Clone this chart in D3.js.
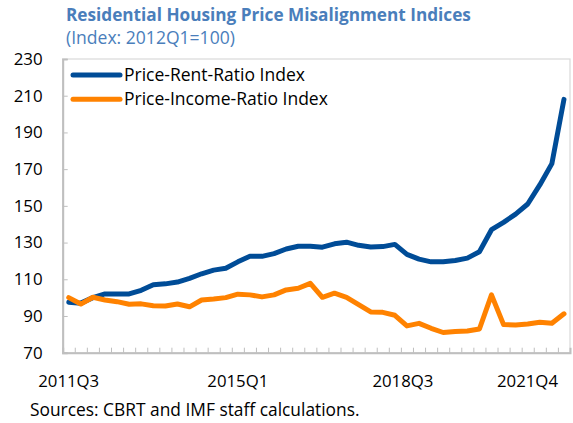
<!DOCTYPE html>
<html>
<head>
<meta charset="utf-8">
<script src="https://cdn.jsdelivr.net/npm/d3@7"></script>
<style>
  body { margin: 0; background: #fff; }
  svg { display: block; font-family: "Open Sans", "Noto Sans", sans-serif; }
</style>
</head>
<body>
<div id="chart"></div>
<script>
// Quarters on the x axis, 2011Q3 .. 2021Q4
var quarters = [
  '2011Q3','2011Q4',
  '2012Q1','2012Q2','2012Q3','2012Q4',
  '2013Q1','2013Q2','2013Q3','2013Q4',
  '2014Q1','2014Q2','2014Q3','2014Q4',
  '2015Q1','2015Q2','2015Q3','2015Q4',
  '2016Q1','2016Q2','2016Q3','2016Q4',
  '2017Q1','2017Q2','2017Q3','2017Q4',
  '2018Q1','2018Q2','2018Q3','2018Q4',
  '2019Q1','2019Q2','2019Q3','2019Q4',
  '2020Q1','2020Q2','2020Q3','2020Q4',
  '2021Q1','2021Q2','2021Q3','2021Q4'
];

// Index values (2012Q1 = 100)
var priceRent = [
  97.5, 97, 100, 102, 102, 102, 104, 107, 107.5, 108.5,
  110.5, 113, 115, 116, 119.5, 122.5, 122.5, 124, 126.5, 128,
  128, 127.5, 129.3, 130.2, 128.5, 127.6, 127.8, 129, 123.6, 121,
  119.5, 119.5, 120.2, 121.5, 125, 137, 141, 145.5, 151, 161.4,
  173, 208
];
var priceIncome = [
  100, 96.5, 100.2, 98.7, 97.8, 96.4, 96.6, 95.6, 95.4, 96.5,
  95, 98.7, 99.2, 100, 101.9, 101.5, 100.4, 101.5, 104.2, 105.1,
  107.8, 100.2, 102.4, 100.2, 96.2, 92.2, 92, 90.4, 84.6, 86,
  83.3, 81, 81.5, 81.8, 82.9, 101.5, 85.3, 85.1, 85.6, 86.6,
  86, 91.2
];

var seriesNames = ['Price-Rent-Ratio Index', 'Price-Income-Ratio Index'];
var seriesColors = ['#004C97', '#FF8200'];

var yTicks = [70, 90, 110, 130, 150, 170, 190, 210, 230];
var xLabels = ['2011Q3', '2015Q1', '2018Q3', '2021Q4'];

var width = 573, height = 423;
var margin = {top: 59, right: 3, bottom: 70.3, left: 62.7};

var svg = d3.select('#chart')
  .append('svg')
    .attr('width', width)
    .attr('height', height);

// The reference used Segoe UI, which is not here: scale the font size
// of a text so that it is as wide as in the picture
function fitWidth(sel, target) {
  var w = 0;
  sel.each(function() { w = Math.max(w, this.getComputedTextLength()); });
  var size = parseFloat(sel.style('font-size'));
  sel.style('font-size', (size * target / w).toFixed(2) + 'px');
}

var x = d3.scaleBand()
  .domain(quarters)
  .range([margin.left, width - margin.right]);

// same axis as a number line, for the tick marks between categories
var xi = d3.scaleLinear()
  .domain([0, quarters.length])
  .range([margin.left, width - margin.right]);

var y = d3.scaleLinear()
  .domain([70, 230])
  .range([height - margin.bottom, margin.top]);

// Title and subtitle
var title = svg.append('text')
  .attr('x', 66).attr('y', 20.5)
  .attr('fill', '#4A7EBB')
  .style('font-weight', 'bold')
  .style('font-size', '15px')
  .text('Residential Housing Price Misalignment Indices');
fitWidth(title, 405);
var subtitle = svg.append('text')
  .attr('x', 66).attr('y', 43.5)
  .attr('fill', '#4A7EBB')
  .style('font-size', '15px')
  .text('(Index: 2012Q1=100)');
fitWidth(subtitle, 169);

// Plot frame
svg.append('rect')
  .attr('x', margin.left)
  .attr('y', margin.top)
  .attr('width', width - margin.right - margin.left)
  .attr('height', height - margin.bottom - margin.top)
  .attr('fill', 'none')
  .attr('stroke', '#D9D9D9')
  .attr('stroke-width', 1.2);

// Y axis, ticks pointing inside
var yAxis = svg.append('g')
  .attr('transform', 'translate(' + margin.left + ',0)')
  .call(d3.axisLeft(y).tickValues(yTicks).tickSize(-5).tickPadding(20));
yAxis.select('.domain').attr('stroke', '#BFBFBF').attr('stroke-width', 2);
yAxis.selectAll('.tick line').attr('stroke', '#BFBFBF');
var yLab = yAxis.selectAll('.tick text')
  .attr('fill', '#000')
  .style('font-family', '"Open Sans", sans-serif')
  .style('font-size', '16px');
fitWidth(yLab, 29);

// X axis: ticks between the quarters, labels put by hand
var xAxis = svg.append('g')
  .attr('transform', 'translate(0,' + (height - margin.bottom) + ')')
  .call(d3.axisBottom(xi).tickValues(d3.range(1, quarters.length)).tickSize(-5).tickFormat(''));
xAxis.select('.domain').attr('stroke', '#BFBFBF').attr('stroke-width', 2);
xAxis.selectAll('.tick line').attr('stroke', '#BFBFBF');

var xLab = svg.append('g').selectAll('text')
  .data(xLabels)
  .enter().append('text')
    .attr('x', function(d, i) {
      if (i == xLabels.length - 1) return 558;
      return x(d) + x.bandwidth() / 2 - (i == 2 ? 4 : 0);
    })
    .attr('y', 387)
    .attr('text-anchor', function(d, i) { return i == xLabels.length - 1 ? 'end' : 'middle'; })
    .style('font-size', '15px')
    .text(function(d) { return d; });
fitWidth(xLab, 61);

// The two lines
var line = d3.line()
  .x(function(d, i) { return x(quarters[i]) + x.bandwidth() / 2; })
  .y(function(d) { return y(d); });

[priceRent, priceIncome].forEach(function(s, k) {
  svg.append('path')
    .datum(s)
    .attr('fill', 'none')
    .attr('stroke', seriesColors[k])
    .attr('stroke-width', 5)
    .attr('stroke-linejoin', 'round')
    .attr('stroke-linecap', 'round')
    .attr('d', line);
});

// Legend
var legend = svg.append('g').selectAll('g')
  .data(seriesNames)
  .enter().append('g')
    .attr('transform', function(d, i) { return 'translate(73,' + (75 + i * 24.3) + ')'; });
legend.append('line')
  .attr('x1', 0).attr('x2', 47)
  .attr('stroke', function(d, i) { return seriesColors[i]; })
  .attr('stroke-width', 5)
  .attr('stroke-linecap', 'round');
var legText = legend.append('text')
  .attr('x', 51).attr('dy', '0.35em')
  .style('font-size', '16px')
  .text(function(d) { return d; });
fitWidth(legText, 204);

// Source note
var note = svg.append('text')
  .attr('x', 30).attr('y', 416)
  .style('font-size', '15px')
  .text('Sources: CBRT and IMF staff calculations.');
fitWidth(note, 330);
</script>
</body>
</html>
